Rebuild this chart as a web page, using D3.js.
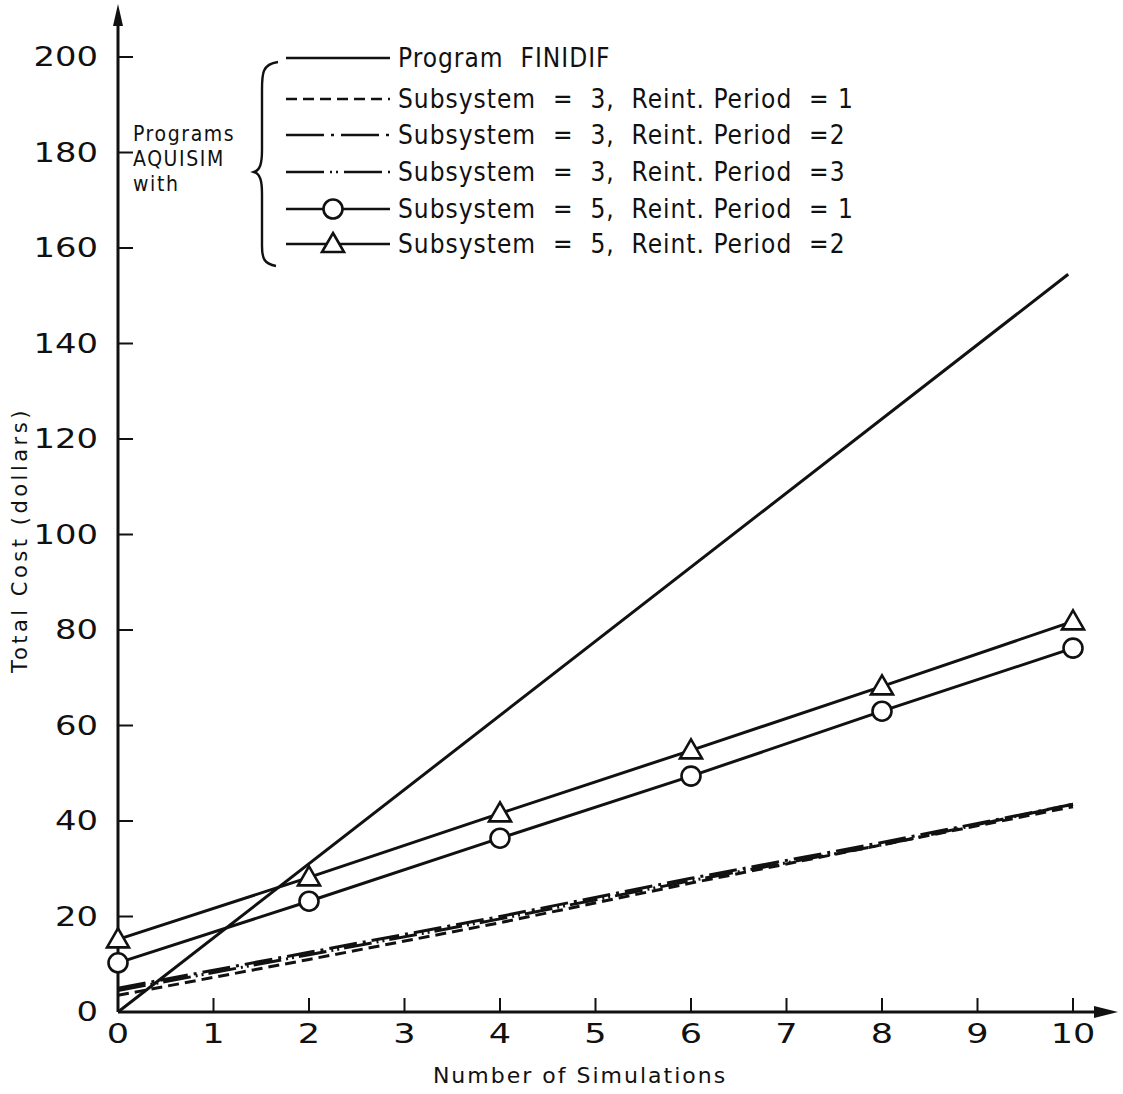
<!DOCTYPE html>
<html>
<head>
<meta charset="utf-8">
<script src="https://d3js.org/d3.v7.min.js"></script>
<style>
  html, body { margin: 0; padding: 0; background: #fff; }
  svg { display: block; }
  text { font-family: "DejaVu Sans", sans-serif; fill: #111; white-space: pre; }
  .cond { font-family: "DejaVu Sans Condensed", "DejaVu Sans", sans-serif; }
</style>
</head>
<body>
<div id="chart"></div>
<script>
// simulations on x, cost in dollars on y
var xTicks = [0, 1, 2, 3, 4, 5, 6, 7, 8, 9, 10];
var yTicks = [0, 20, 40, 60, 80, 100, 120, 140, 160, 180, 200];

var finidifX = [0, 9.95];
var finidifY = [0, 154.5];

var sub3X = [0, 2, 4, 6, 8, 10];
var sub3r1 = [3.5, 11, 18.7, 27, 35, 43];
var sub3r2 = [5, 12.5, 20, 28, 35.5, 43.5];
var sub3r3 = [4.5, 12, 19.5, 27.5, 35, 43.5];

var sub5X = [0, 2, 4, 6, 8, 10];
var sub5r1 = [10.3, 23.2, 36.4, 49.4, 63, 76.2];
var sub5r2 = [15.2, 28.2, 41.6, 54.8, 68.2, 81.8];

var legendLabels = [
  "Program  FINIDIF",
  "Subsystem  =  3,  Reint. Period  = 1",
  "Subsystem  =  3,  Reint. Period  =2",
  "Subsystem  =  3,  Reint. Period  =3",
  "Subsystem  =  5,  Reint. Period  = 1",
  "Subsystem  =  5,  Reint. Period  =2"
];
var groupLabel = ["Programs", "AQUISIM", "with"];

var W = 1123, H = 1094;
var svg = d3.select("#chart").append("svg").attr("width", W).attr("height", H);

var x = d3.scaleLinear().domain([0, 10]).range([118, 1073]);
var y = d3.scaleLinear().domain([0, 200]).range([1012, 57]);

function zip(xs, ys) { return xs.map(function(d, i) { return [d, ys[i]]; }); }
var line = d3.line().x(function(d) { return x(d[0]); }).y(function(d) { return y(d[1]); });

var series = [
  { pts: zip(finidifX, finidifY), dash: null, mark: null },
  { pts: zip(sub3X, sub3r1), dash: "11,6", mark: null },
  { pts: zip(sub3X, sub3r2), dash: "28,6,3,6", mark: null },
  { pts: zip(sub3X, sub3r3), dash: "28,5,2,4,2,5", mark: null },
  { pts: zip(sub5X, sub5r1), dash: null, mark: "circle" },
  { pts: zip(sub5X, sub5r2), dash: null, mark: "triangle" }
];

// axes (drawn by hand to get the arrow-headed look)
var ax = svg.append("g").attr("stroke", "#111").attr("fill", "none");
ax.append("line").attr("x1", x(0)).attr("x2", 1108).attr("y1", y(0)).attr("y2", y(0)).attr("stroke-width", 3);
ax.append("line").attr("x1", x(0)).attr("x2", x(0)).attr("y1", y(0)).attr("y2", 14).attr("stroke-width", 3);
svg.append("path").attr("d", d3.line()([[x(0) - 5, 26], [x(0), 4], [x(0) + 5, 26]]) + "Z").attr("fill", "#111");
svg.append("path").attr("d", d3.line()([[1094, y(0) - 6], [1118, y(0)], [1094, y(0) + 6]]) + "Z").attr("fill", "#111");

ax.selectAll(".yt").data(yTicks.slice(1)).enter().append("line")
  .attr("x1", x(0)).attr("x2", x(0) + 15)
  .attr("y1", function(d) { return y(d); }).attr("y2", function(d) { return y(d); })
  .attr("stroke-width", 2);
ax.selectAll(".xt").data(xTicks.slice(1)).enter().append("line")
  .attr("x1", function(d) { return x(d); }).attr("x2", function(d) { return x(d); })
  .attr("y1", y(0)).attr("y2", y(0) - 14)
  .attr("stroke-width", 2);

svg.selectAll(".ylab").data(yTicks).enter().append("text")
  .attr("transform", function(d) { return "translate(98," + (y(d) + 9) + ") scale(1.3,1)"; })
  .attr("text-anchor", "end").attr("font-size", 26)
  .text(function(d) { return d; });
svg.selectAll(".xlab").data(xTicks).enter().append("text")
  .attr("transform", function(d) { return "translate(" + x(d) + ",1043) scale(1.35,1)"; })
  .attr("text-anchor", "middle").attr("font-size", 26)
  .text(function(d) { return d; });

svg.append("text").attr("transform", "translate(27,540) rotate(-90)")
  .attr("text-anchor", "middle").attr("font-size", 21).attr("letter-spacing", 3.5)
  .text("Total Cost (dollars)");
svg.append("text").attr("x", 580).attr("y", 1083)
  .attr("text-anchor", "middle").attr("font-size", 22).attr("letter-spacing", 2)
  .text("Number of Simulations");

// data lines
svg.selectAll(".series").data(series).enter().append("path")
  .attr("d", function(d) { return line(d.pts); })
  .attr("fill", "none").attr("stroke", "#111").attr("stroke-width", 3)
  .attr("stroke-dasharray", function(d) { return d.dash; });

function drawMark(g, kind, cx, cy) {
  if (kind === "circle") {
    g.append("circle").attr("cx", cx).attr("cy", cy).attr("r", 9.5)
      .attr("fill", "#fff").attr("stroke", "#111").attr("stroke-width", 2.6);
  } else if (kind === "triangle") {
    g.append("path").attr("d", d3.line()([[cx, cy - 11], [cx + 11, cy + 8], [cx - 11, cy + 8]]) + "Z")
      .attr("fill", "#fff").attr("stroke", "#111").attr("stroke-width", 2.6);
  }
}
var marks = svg.append("g");
series.forEach(function(s) {
  if (!s.mark) return;
  s.pts.forEach(function(p) { drawMark(marks, s.mark, x(p[0]), y(p[1])); });
});

// legend
var rowY = [58, 99, 135, 172, 209, 244];
var lg = svg.append("g");
series.forEach(function(s, i) {
  lg.append("line").attr("x1", 286).attr("x2", 390).attr("y1", rowY[i]).attr("y2", rowY[i])
    .attr("stroke", "#111").attr("stroke-width", 2.4)
    .attr("stroke-dasharray", i === 1 ? "11,6" : i === 2 ? "38,7,3,7" : i === 3 ? "38,6,2,4,2,6" : null);
  if (s.mark) drawMark(lg, s.mark, 333, rowY[i]);
  lg.append("text").attr("class", "cond").attr("x", 398).attr("y", rowY[i] + 9)
    .attr("font-size", 26).attr("letter-spacing", 1)
    .text(legendLabels[i]);
});

// curly brace grouping the AQUISIM rows
lg.append("path")
  .attr("d", "M278,62 C262,64 262,74 262,90 L262,150 C262,164 260,170 254,172 C260,174 262,180 262,194 L262,246 C262,258 264,264 276,266")
  .attr("fill", "none").attr("stroke", "#111").attr("stroke-width", 2.4);
groupLabel.forEach(function(t, i) {
  lg.append("text").attr("class", "cond").attr("x", 133).attr("y", 141 + i * 25)
    .attr("font-size", 21).attr("letter-spacing", 1.6).text(t);
});
</script>
</body>
</html>
